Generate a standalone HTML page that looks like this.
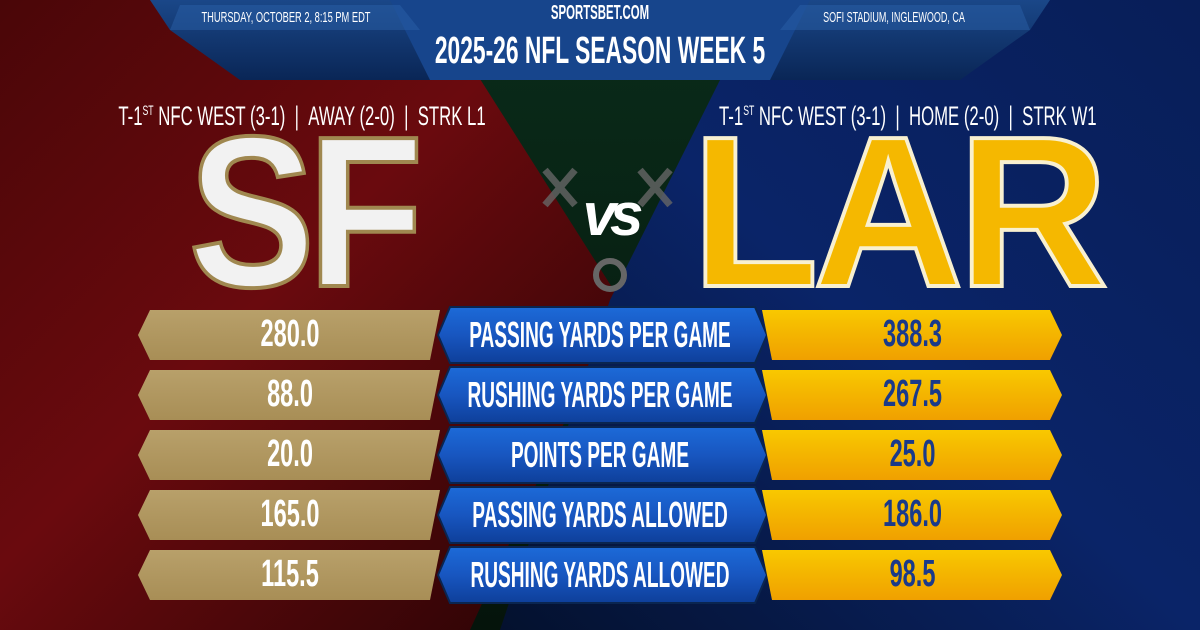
<!DOCTYPE html>
<html><head><meta charset="utf-8"><style>
*{margin:0;padding:0;box-sizing:border-box}
body{width:1200px;height:630px;overflow:hidden;position:relative;background:#111;font-family:"Liberation Sans Narrow","Liberation Sans",sans-serif}
.abs{position:absolute}
.c{position:absolute;white-space:nowrap;transform-origin:center;text-align:center}
</style></head><body>
<svg class="abs" style="left:0;top:0" width="1200" height="630">
<defs>
<linearGradient id="rg" x1="0" y1="0" x2="1" y2="1"><stop offset="0" stop-color="#4a0608"/><stop offset=".45" stop-color="#6a0a0e"/><stop offset="1" stop-color="#250304"/></linearGradient>
<linearGradient id="bg" x1="1" y1="0" x2="0" y2="1"><stop offset="0" stop-color="#081e58"/><stop offset=".5" stop-color="#0a2468"/><stop offset="1" stop-color="#04112e"/></linearGradient>
<linearGradient id="gg" x1="0" y1="0" x2="0" y2="1"><stop offset="0" stop-color="#0a2c1a"/><stop offset="1" stop-color="#05140b"/></linearGradient>
<linearGradient id="hd" x1="0" y1="0" x2="0" y2="1"><stop offset="0" stop-color="#1a4788"/><stop offset="1" stop-color="#0a2656"/></linearGradient>
<linearGradient id="tan" x1="0" y1="0" x2="0" y2="1"><stop offset="0" stop-color="#b8a06a"/><stop offset="1" stop-color="#a88e56"/></linearGradient>
<linearGradient id="blu" x1="0" y1="0" x2="0" y2="1"><stop offset="0" stop-color="#1c6ad8"/><stop offset=".5" stop-color="#1856c0"/><stop offset="1" stop-color="#0e3f9a"/></linearGradient>
<linearGradient id="yel" x1="0" y1="0" x2="0" y2="1"><stop offset="0" stop-color="#f8c800"/><stop offset="1" stop-color="#f0a000"/></linearGradient>
</defs>
<polygon points="0,0 1200,0 1200,630 0,630" fill="url(#gg)"/>
<polygon points="0,0 430,0 620,300 470,630 0,630" fill="url(#rg)"/>
<polygon points="760,0 1200,0 1200,630 500,630 610,300" fill="url(#bg)"/>
<polygon points="150,0 1050,0 1030,30 960,80 240,80 170,30" fill="url(#hd)"/>
<polygon points="390,0 810,0 790,40 770,80 430,80 410,40" fill="#17458c"/>
<polygon points="180,5 400,5 420,30 170,30" fill="#2a5fa8" opacity=".5"/>
<polygon points="800,5 1020,5 1030,30 780,30" fill="#2a5fa8" opacity=".5"/>
<g stroke="#666" stroke-width="7" opacity=".8"><path d="M545,170 L575,205 M575,170 L545,205 M640,170 L670,205 M670,170 L640,205"/></g>
<circle cx="610" cy="275" r="14" fill="none" stroke="#666" stroke-width="6"/>
<g id="rows"></g>
</svg>
<div class="c" style="left:36px;top:9px;width:500px;font-size:15px;color:#fff;transform:scaleX(.62)">THURSDAY, OCTOBER 2, 8:15 PM EDT</div>
<div class="c" style="left:350px;top:2px;width:500px;font-size:20px;font-weight:bold;color:#fff;transform:scaleX(.57)">SPORTSBET.COM</div>
<div class="c" style="left:644px;top:9px;width:500px;font-size:15px;color:#fff;transform:scaleX(.6)">SOFI STADIUM, INGLEWOOD, CA</div>
<div class="c" style="left:200px;top:30px;width:800px;font-size:38px;font-weight:bold;color:#fff;transform:scaleX(.6)">2025-26 NFL SEASON WEEK 5</div>
<div class="c" style="left:2px;top:101px;width:600px;font-size:27px;color:#fff;transform:scaleX(.62)">T-1<sup style="font-size:14px">ST</sup> NFC WEST (3-1) &nbsp;| &nbsp;AWAY (2-0) &nbsp;| &nbsp;STRK L1</div>
<div class="c" style="left:605px;top:101px;width:600px;font-size:27px;color:#fff;transform:scaleX(.62)">T-1<sup style="font-size:14px">ST</sup> NFC WEST (3-1) &nbsp;| &nbsp;HOME (2-0) &nbsp;| &nbsp;STRK W1</div>
<div class="c" style="left:150px;top:102px;width:305px;font-size:215px;font-weight:bold;font-family:'Liberation Sans',sans-serif;color:#f2f2f2;letter-spacing:-8px;line-height:220px;transform:scaleX(.88);-webkit-text-stroke:4px #a08850">SF</div>
<div class="c" style="left:597px;top:102px;width:600px;font-size:215px;font-weight:bold;font-family:'Liberation Sans',sans-serif;color:#f5b800;letter-spacing:-6px;line-height:220px;transform:scaleX(.97);-webkit-text-stroke:4px #f8f0d0">LAR</div>
<div class="c" style="left:560px;top:180px;width:100px;font-size:60px;font-weight:bold;font-style:italic;font-family:'Liberation Sans',sans-serif;color:#fff;letter-spacing:-6px;line-height:70px">vs</div>
<div id="stats"></div>
<script>
var d=[["280.0","PASSING YARDS PER GAME","388.3"],["88.0","RUSHING YARDS PER GAME","267.5"],["20.0","POINTS PER GAME","25.0"],["165.0","PASSING YARDS ALLOWED","186.0"],["115.5","RUSHING YARDS ALLOWED","98.5"]];
var g=document.getElementById('rows'),s='',h='';
d.forEach(function(r,i){var y=310+i*60,m=y+25,b=y+50;
s+='<polygon points="150,'+y+' 440,'+y+' 430,'+b+' 150,'+b+' 138,'+m+'" fill="url(#tan)"/>';
s+='<polygon points="450,'+(y-3)+' 755,'+(y-3)+' 767,'+m+' 755,'+(b+3)+' 450,'+(b+3)+' 438,'+m+'" fill="url(#blu)" stroke="#0a2550" stroke-width="2"/>';
s+='<polygon points="762,'+y+' 1050,'+y+' 1062,'+m+' 1050,'+b+' 772,'+b+'" fill="url(#yel)"/>';
h+='<div class="c" style="left:140px;top:'+(y+3)+'px;width:300px;font-size:38px;font-weight:bold;color:#fff;transform:scaleX(.62)">'+r[0]+'</div>';
h+='<div class="c" style="left:300px;top:'+(y+4)+'px;width:600px;font-size:36px;font-weight:bold;color:#fff;transform:scaleX(.53)">'+r[1]+'</div>';
h+='<div class="c" style="left:765px;top:'+(y+3)+'px;width:295px;font-size:38px;font-weight:bold;color:#1a3a8a;transform:scaleX(.62)">'+r[2]+'</div>';});
g.innerHTML=s;document.getElementById('stats').innerHTML=h;
</script>
</body></html>
